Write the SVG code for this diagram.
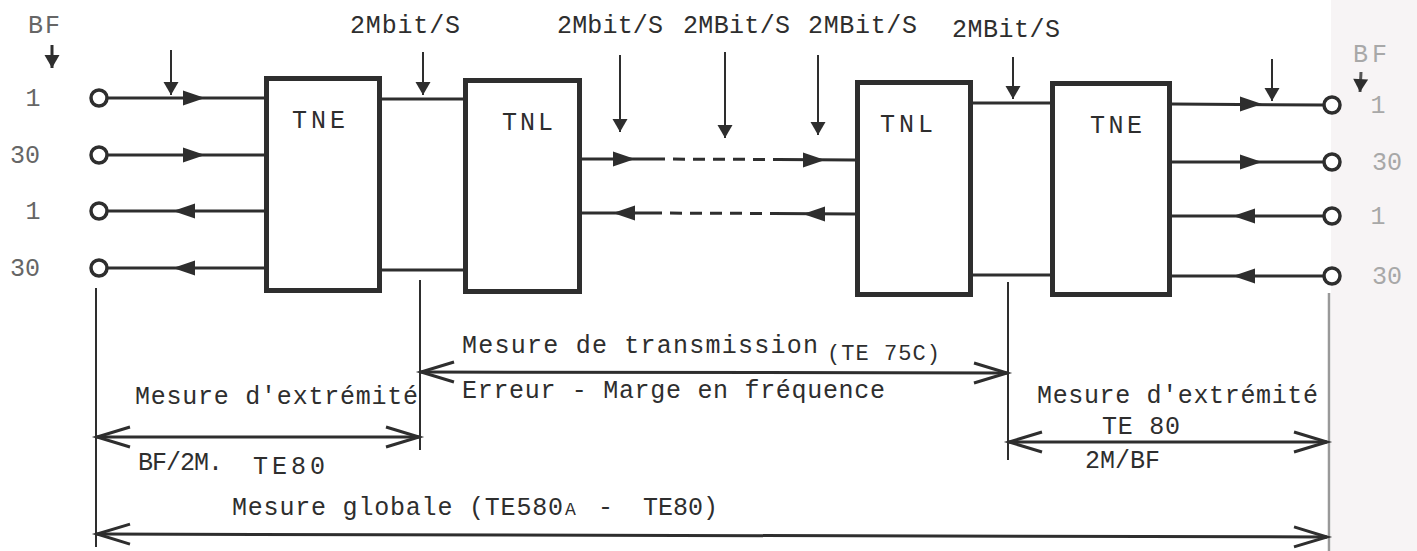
<svg xmlns="http://www.w3.org/2000/svg" xmlns:xlink="http://www.w3.org/1999/xlink" width="1417" height="551" viewBox="0 0 1417 551">
<style>
.t{font-family:"Liberation Mono","DejaVu Sans Mono",monospace;fill:#2e2e2e;font-size:25px}
.s{font-size:22px}
.g1{fill:#666}
.g2{fill:#a8a8a8}
.box{fill:#fff;stroke:#2e2e2e;stroke-width:5}
.ln{stroke:#2e2e2e;stroke-width:3;fill:none}
.thin{stroke:#2e2e2e;stroke-width:2;fill:none}
.dash{stroke:#2e2e2e;stroke-width:3;fill:none;stroke-dasharray:12 8}
.term{fill:#fff;stroke:#2e2e2e;stroke-width:3.5}
.tri{fill:#2e2e2e}
</style>
<defs>
<path id="tri" d="M-11,-7.5 L11,0 L-11,7.5 Z"/>
<marker id="open" markerUnits="userSpaceOnUse" viewBox="-36 -14 40 28" markerWidth="40" markerHeight="28" refX="0" refY="0" orient="auto-start-reverse" overflow="visible">
<path d="M-33,-10 L0,0 L-33,10" fill="none" stroke="#2e2e2e" stroke-width="3"/>
</marker>
<marker id="down" markerUnits="userSpaceOnUse" viewBox="-14 -8 16 16" markerWidth="16" markerHeight="16" refX="0" refY="0" orient="auto" overflow="visible">
<path d="M-13,-7.5 L0,0 L-13,7.5 Z" fill="#2e2e2e"/>
</marker>
</defs>
<rect x="0" y="0" width="1417" height="551" fill="#fff"/>
<rect x="1331" y="0" width="86" height="551" fill="#f7f4f5"/>

<g id="connectors">
<line class="ln" x1="107" y1="98" x2="266" y2="98"/>
<line class="ln" x1="107" y1="155" x2="266" y2="155"/>
<line class="ln" x1="107" y1="211" x2="266" y2="211"/>
<line class="ln" x1="107" y1="268" x2="266" y2="268"/>
<use href="#tri" class="tri" transform="translate(194,98)"/>
<use href="#tri" class="tri" transform="translate(194,155)"/>
<use href="#tri" class="tri" transform="translate(184,211) rotate(180)"/>
<use href="#tri" class="tri" transform="translate(184,268) rotate(180)"/>
<line class="ln" x1="382" y1="99" x2="463" y2="99"/>
<line class="ln" x1="382" y1="270" x2="463" y2="270"/>
<line class="ln" x1="582" y1="159" x2="653" y2="159"/>
<line class="dash" x1="653" y1="159" x2="778" y2="159.5"/>
<line class="ln" x1="778" y1="159.5" x2="855" y2="160"/>
<line class="ln" x1="582" y1="213" x2="650" y2="213"/>
<line class="dash" x1="650" y1="213" x2="773" y2="213.5"/>
<line class="ln" x1="773" y1="213.5" x2="855" y2="214"/>
<use href="#tri" class="tri" transform="translate(624,159)"/>
<use href="#tri" class="tri" transform="translate(814,160)"/>
<use href="#tri" class="tri" transform="translate(624,213) rotate(180)"/>
<use href="#tri" class="tri" transform="translate(814,214) rotate(180)"/>
<line class="ln" x1="973" y1="103" x2="1050" y2="103"/>
<line class="ln" x1="973" y1="275" x2="1050" y2="275"/>
<line class="ln" x1="1172" y1="104" x2="1324" y2="105"/>
<line class="ln" x1="1172" y1="162" x2="1324" y2="162"/>
<line class="ln" x1="1172" y1="216" x2="1324" y2="216"/>
<line class="ln" x1="1172" y1="276" x2="1324" y2="276"/>
<use href="#tri" class="tri" transform="translate(1251,104)"/>
<use href="#tri" class="tri" transform="translate(1251,162)"/>
<use href="#tri" class="tri" transform="translate(1244,216) rotate(180)"/>
<use href="#tri" class="tri" transform="translate(1244,276) rotate(180)"/>
<line class="thin" x1="171" y1="50" x2="171" y2="95" marker-end="url(#down)"/>
<line class="thin" x1="423" y1="52" x2="423" y2="95" marker-end="url(#down)"/>
<line class="thin" x1="620" y1="55" x2="620" y2="132" marker-end="url(#down)"/>
<line class="thin" x1="725" y1="52" x2="725" y2="138" marker-end="url(#down)"/>
<line class="thin" x1="818" y1="55" x2="818" y2="135" marker-end="url(#down)"/>
<line class="thin" x1="1013" y1="57" x2="1013" y2="99" marker-end="url(#down)"/>
<line class="thin" x1="1272" y1="59" x2="1272" y2="101" marker-end="url(#down)"/>
<line x1="52" y1="45" x2="52" y2="68" stroke="#2e2e2e" stroke-width="3" marker-end="url(#down)"/>
<line x1="1361" y1="72" x2="1360" y2="92" stroke="#555" stroke-width="3" marker-end="url(#down)"/>
<line class="thin" x1="96" y1="288" x2="96" y2="547"/>
<line class="thin" x1="420" y1="280" x2="420" y2="450"/>
<line class="thin" x1="1008" y1="282" x2="1008" y2="460"/>
<line x1="1329" y1="293" x2="1329" y2="551" stroke="#999" stroke-width="2.5"/>
<line class="ln" x1="421" y1="372" x2="1007" y2="373" marker-start="url(#open)" marker-end="url(#open)"/>
<line class="ln" x1="97" y1="437" x2="419" y2="437" marker-start="url(#open)" marker-end="url(#open)"/>
<line class="ln" x1="1009" y1="442" x2="1327" y2="442" marker-start="url(#open)" marker-end="url(#open)"/>
<line class="ln" x1="97" y1="534" x2="1327" y2="537" marker-start="url(#open)" marker-end="url(#open)"/>
</g>

<g id="terminals-left">
<circle class="term" cx="99" cy="98" r="8"/>
<circle class="term" cx="99" cy="155" r="8"/>
<circle class="term" cx="99" cy="211" r="8"/>
<circle class="term" cx="99" cy="268" r="8"/>
<text class="t g1" x="28" y="33" font-size="21" textLength="32">BF</text>
<text class="t g1" x="33" y="106" text-anchor="middle">1</text>
<text class="t g1" x="25" y="163" text-anchor="middle">30</text>
<text class="t g1" x="33" y="219" text-anchor="middle">1</text>
<text class="t g1" x="25" y="276" text-anchor="middle">30</text>
</g>

<g id="tne-left">
<rect class="box" x="266.5" y="78.5" width="113" height="212"/>
<text class="t" x="292" y="128" textLength="53">TNE</text>
</g>

<g id="tnl-left">
<rect class="box" x="465.5" y="80.5" width="114" height="211"/>
<text class="t" x="502" y="130" textLength="51">TNL</text>
</g>

<g id="tnl-right">
<rect class="box" x="857.5" y="82.5" width="113" height="212"/>
<text class="t" x="880" y="132" textLength="53">TNL</text>
</g>

<g id="tne-right">
<rect class="box" x="1052.5" y="83.5" width="117" height="211"/>
<text class="t" x="1090" y="133" textLength="52">TNE</text>
</g>

<g id="terminals-right">
<circle class="term" cx="1332" cy="105" r="8"/>
<circle class="term" cx="1332" cy="162" r="8"/>
<circle class="term" cx="1332" cy="216" r="8"/>
<circle class="term" cx="1332" cy="276" r="8"/>
<text class="t g2" x="1353" y="62" font-size="19" textLength="34">BF</text>
<text class="t g2" x="1378" y="113" text-anchor="middle">1</text>
<text class="t g2" x="1387" y="170" text-anchor="middle">30</text>
<text class="t g2" x="1378" y="224" text-anchor="middle">1</text>
<text class="t g2" x="1387" y="284" text-anchor="middle">30</text>
</g>

<g id="labels">
<text class="t" x="350" y="33" textLength="110">2Mbit/S</text>
<text class="t" x="557" y="33" textLength="106">2Mbit/S</text>
<text class="t" x="683" y="33" textLength="107">2MBit/S</text>
<text class="t" x="808" y="33" textLength="109">2MBit/S</text>
<text class="t" x="952" y="37" textLength="108">2MBit/S</text>

<text class="t" x="462" y="353" textLength="356">Mesure de transmission</text>
<text class="t s" x="827" y="360" textLength="113">(TE 75C)</text>
<text class="t" x="462" y="398" textLength="423">Erreur - Marge en fréquence</text>

<text class="t" x="135" y="404" textLength="283">Mesure d'extrémité</text>
<text class="t" x="138" y="470" textLength="85">BF/2M.</text>
<text class="t" x="253" y="474" textLength="72">TE80</text>

<text class="t" x="1037" y="403" textLength="281">Mesure d'extrémité</text>
<text class="t" x="1102" y="434" textLength="78">TE 80</text>
<text class="t" x="1085" y="468" textLength="75">2M/BF</text>

<text class="t" x="232" y="515"><tspan textLength="331">Mesure globale (TE580</tspan><tspan x="565" font-size="18">A</tspan><tspan x="598">-</tspan><tspan x="643" textLength="75">TE80)</tspan></text>
</g>
</svg>
